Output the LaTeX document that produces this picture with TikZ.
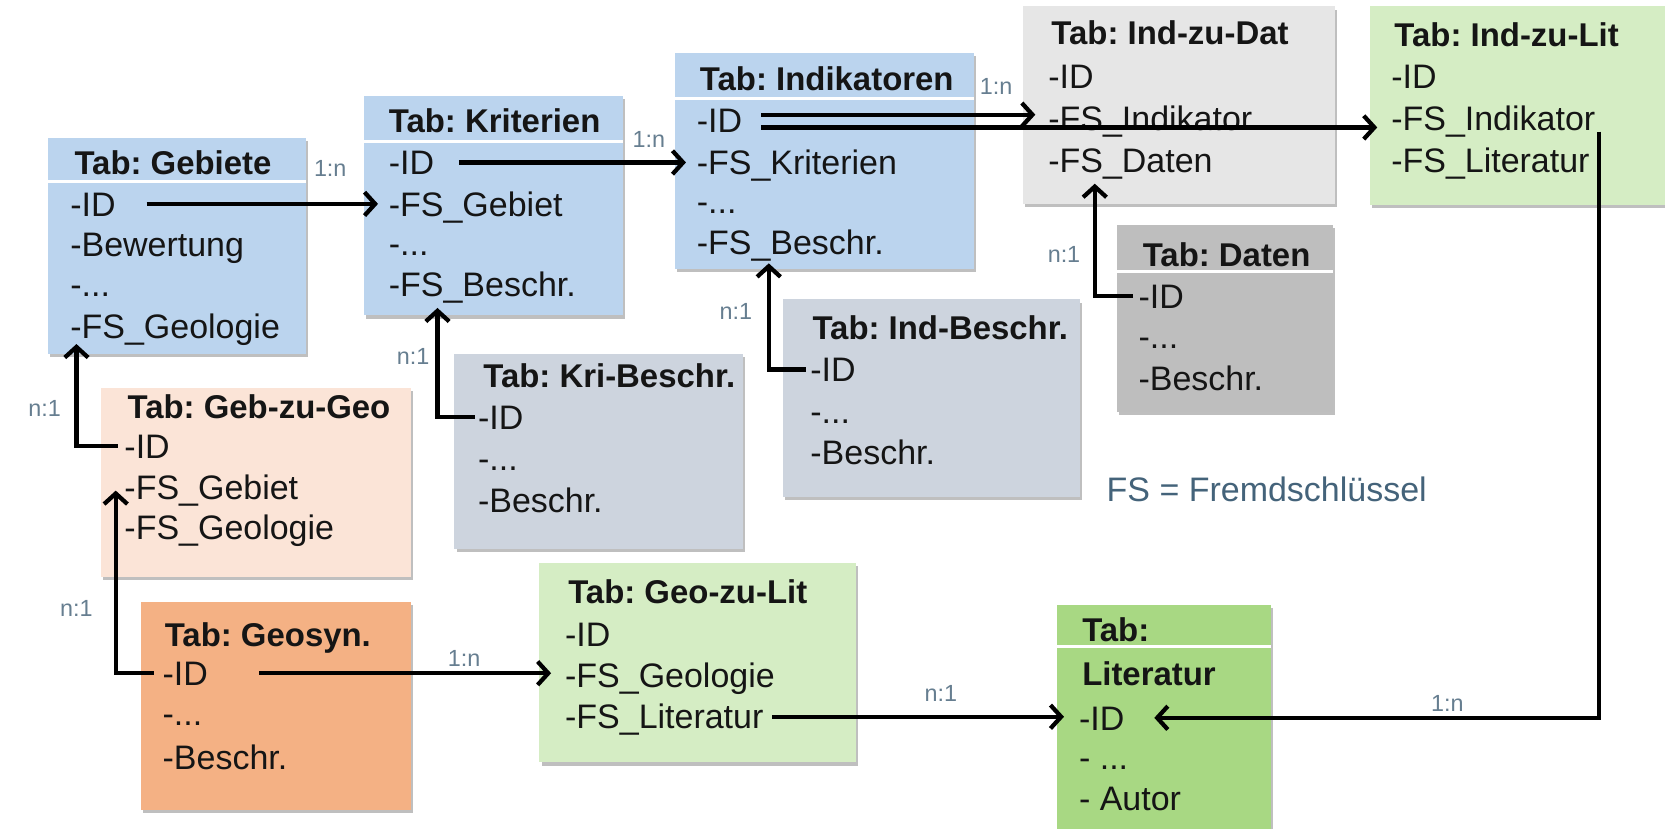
\documentclass[tikz,border=0pt]{standalone}
\usepackage{fontspec}
\setmainfont{Liberation Sans}
\usetikzlibrary{arrows.meta,shadows}
\definecolor{cBlue}{HTML}{BBD4EE}
\definecolor{cGrayL}{HTML}{E6E6E6}
\definecolor{cGrayD}{HTML}{BEBEBE}
\definecolor{cSlate}{HTML}{CDD4DE}
\definecolor{cPeach}{HTML}{FBE4D7}
\definecolor{cOrange}{HTML}{F4B184}
\definecolor{cGreenL}{HTML}{D5EDC4}
\definecolor{cGreenD}{HTML}{A8D883}
\definecolor{cTxt}{HTML}{151515}
\definecolor{cLbl}{HTML}{667E90}
\definecolor{cFS}{HTML}{44637A}
\newcommand\tbl[6]{\node[tbox, fill=#6, minimum width=#4pt-#2pt, minimum height=#5pt-#3pt] (#1) at (#2,#3) {};}
\frenchspacing
\begin{document}
\begin{tikzpicture}[x=1pt,y=-1pt,
  tbox/.style={inner sep=0pt, outer sep=0pt, anchor=north west, draw=none,
    drop shadow={shadow xshift=2pt,shadow yshift=-3pt,opacity=0.25,fill=black}},
  hd/.style={anchor=west, inner sep=0pt, text height=22pt, text depth=0pt,
    font=\fontsize{31}{36}\selectfont\bfseries, text=cTxt},
  rw/.style={anchor=west, inner sep=0pt, text height=23pt, text depth=0pt,
    font=\fontsize{32}{38}\selectfont, text=cTxt},
  lbl/.style={inner sep=0pt, font=\fontsize{22}{26}\selectfont, text=cLbl},
  sepline/.style={draw=white, line width=3pt},
  arr/.style={line width=4pt, draw=black, -{Straight Barb[length=10pt,width=22pt]}}
]
\useasboundingbox (0,0) rectangle (1568,780);
\fill[white] (0,0) rectangle (1568,780);

% ---------- boxes ----------
\tbl{geb}{45}{130}{288}{333}{cBlue}
\tbl{kri}{343}{90}{587}{297}{cBlue}
\tbl{ind}{636}{50}{917}{253}{cBlue}
\tbl{izd}{963}{6}{1257}{192}{cGrayL}
\tbl{izl}{1290}{6}{1572}{193}{cGreenL}
\tbl{dat}{1052}{212}{1255}{388}{cGrayD}
\tbl{ibs}{737}{282}{1017}{468}{cSlate}
\tbl{kbs}{428}{333}{700}{517}{cSlate}
\tbl{gzg}{95}{365}{387}{543}{cPeach}
\tbl{geo}{133}{567}{387}{763}{cOrange}
\tbl{gzl}{508}{530}{806}{718}{cGreenL}
\tbl{lit}{995}{570}{1197}{784}{cGreenD}

% header separators
\draw[sepline] ([yshift=-41pt]geb.north west) -- ([yshift=-41pt]geb.north east);
\draw[sepline] ([yshift=-43pt]kri.north west) -- ([yshift=-43pt]kri.north east);
\draw[sepline] ([yshift=-43pt]ind.north west) -- ([yshift=-43pt]ind.north east);
\draw[sepline] ([yshift=-44pt]dat.north west) -- ([yshift=-44pt]dat.north east);
\draw[sepline] ([yshift=-39pt]lit.north west) -- ([yshift=-39pt]lit.north east);

% ---------- texts ----------
\node[hd] (geb-h) at (70,153) {Tab: Gebiete};
\node[rw] (geb-id) at (66,192) {-ID};
\node[rw] (geb-bew) at (66,230) {-Bewertung};
\node[rw] (geb-dots) at (66,268) {-...};
\node[rw] (geb-fsgeo) at (66,307) {-FS\_Geologie};

\node[hd] (kri-h) at (366,114) {Tab: Kriterien};
\node[rw] (kri-id) at (366,153) {-ID};
\node[rw] (kri-fsgeb) at (366,192) {-FS\_Gebiet};
\node[rw] (kri-dots) at (366,229) {-...};
\node[rw] (kri-fsbes) at (366,268) {-FS\_Beschr.};

\node[hd] (ind-h) at (659,74) {Tab: Indikatoren};
\node[rw] (ind-id) at (656,113) {-ID};
\node[rw] (ind-fskri) at (656,153) {-FS\_Kriterien};
\node[rw] (ind-dots) at (656,190) {-...};
\node[rw] (ind-fsbes) at (656,228) {-FS\_Beschr.};

\node[hd] (izd-h) at (990,31) {Tab: Ind-zu-Dat};
\node[rw] (izd-id) at (987,72) {-ID};
\node[rw] (izd-fsind) at (987,111) {-FS\_Indikator};
\node[rw] (izd-fsdat) at (987,151) {-FS\_Daten};

\node[hd] (izl-h) at (1313,33) {Tab: Ind-zu-Lit};
\node[rw] (izl-id) at (1310,72) {-ID};
\node[rw] (izl-fsind) at (1310,111) {-FS\_Indikator};
\node[rw] (izl-fslit) at (1310,151) {-FS\_Literatur};

\node[hd] (dat-h) at (1076,240) {Tab: Daten};
\node[rw] (dat-id) at (1072,279) {-ID};
\node[rw] (dat-dots) at (1072,317) {-...};
\node[rw] (dat-bes) at (1072,356) {-Beschr.};

\node[hd] (ibs-h) at (765,309) {Tab: Ind-Beschr.};
\node[rw] (ibs-id) at (763,348) {-ID};
\node[rw] (ibs-dots) at (763,387) {-...};
\node[rw] (ibs-bes) at (763,426) {-Beschr.};

\node[hd] (kbs-h) at (455,354) {Tab: Kri-Beschr.};
\node[rw] (kbs-id) at (450,393) {-ID};
\node[rw] (kbs-dots) at (450,432) {-...};
\node[rw] (kbs-bes) at (450,471) {-Beschr.};

\node[hd] (gzg-h) at (120,383) {Tab: Geb-zu-Geo};
\node[rw] (gzg-id) at (117,420) {-ID};
\node[rw] (gzg-fsgeb) at (117,459) {-FS\_Gebiet};
\node[rw] (gzg-fsgeo) at (117,497) {-FS\_Geologie};

\node[hd] (geo-h) at (155,598) {Tab: Geosyn.};
\node[rw] (geo-id) at (153,634) {-ID};
\node[rw] (geo-dots) at (153,672) {-...};
\node[rw] (geo-bes) at (153,713) {-Beschr.};

\node[hd] (gzl-h) at (535,557) {Tab: Geo-zu-Lit};
\node[rw] (gzl-id) at (532,597) {-ID};
\node[rw] (gzl-fsgeo) at (532,636) {-FS\_Geologie};
\node[rw] (gzl-fslit) at (532,675) {-FS\_Literatur};

\node[hd] (lit-h) at (1019,593) {Tab:};
\node[hd] (lit-h2) at (1019,635) {Literatur};
\node[rw] (lit-id) at (1016,676) {-ID};
\node[rw] (lit-dots) at (1016,713) {- ...};
\node[rw] (lit-aut) at (1016,752) {- Autor};

\node[anchor=west, inner sep=0pt, text height=23pt, text depth=0pt,
  font=\fontsize{32}{38}\selectfont, text=cFS] (fsnote) at (1042,461) {FS = Fremdschlüssel};

% ---------- labels ----------
\node[lbl] (l1) at (311,159) {1:n};
\node[lbl] (l2) at (611,131) {1:n};
\node[lbl] (l3) at (938,81) {1:n};
\node[lbl] (l4) at (389,336) {n:1};
\node[lbl] (l5) at (693,293) {n:1};
\node[lbl] (l6) at (1002,240) {n:1};
\node[lbl] (l7) at (42,385) {n:1};
\node[lbl] (l8) at (72,573) {n:1};
\node[lbl] (l9) at (437,620) {1:n};
\node[lbl] (l10) at (886,653) {n:1};
\node[lbl] (l11) at (1363,662) {1:n};

% ---------- connectors ----------
\draw[arr, shorten <=29pt, shorten >=10pt] (geb-id.east) -- (geb-id.east -| kri-fsgeb.west);
\draw[arr, shorten <=23pt, shorten >=10pt] (kri-id.east) -- (kri-id.east -| ind-fskri.west);
\coordinate (a3u) at ([yshift=5pt]ind-id.east);
\coordinate (a3l) at ([yshift=-7pt]ind-id.east);
\draw[arr, shorten <=18pt, shorten >=12pt] (a3u) -- (a3u -| izd-fsind.west);
\draw[arr, shorten <=18pt, shorten >=13pt] (a3l) -- (a3l -| izl-fsind.west);
\draw[arr, shorten >=28pt] ([xshift=3pt,yshift=-13pt]izl-fsind.east) |- (lit-id.east);
\draw[arr, shorten <=8pt, shorten >=14pt] (gzl-fslit.east) -- (gzl-fslit.east -| lit-id.west);
\draw[arr, shorten <=48pt, shorten >=13pt] (geo-id.east) -- (geo-id.east -| gzl-fsgeo.west);
\coordinate (a7e) at ([xshift=-8pt,yshift=-3pt]gzg-fsgeb.west);
\draw[arr, shorten <=8pt] (geo-id.west) -| (a7e);
\coordinate (a8e) at ([xshift=6pt,yshift=-17pt]geb-fsgeo.west);
\draw[arr, shorten <=6pt] (gzg-id.west) -| (a8e);
\coordinate (a9e) at ([xshift=46pt,yshift=-22pt]kri-fsbes.west);
\draw[arr, shorten <=3pt] (kbs-id.west) -| (a9e);
\coordinate (a10e) at ([xshift=68pt,yshift=-20pt]ind-fsbes.west);
\draw[arr, shorten <=4pt] (ibs-id.west) -| (a10e);
\coordinate (a11e) at ([xshift=44pt,yshift=-22pt]izd-fsdat.west);
\draw[arr, shorten <=5pt] (dat-id.west) -| (a11e);
\end{tikzpicture}
\end{document}
